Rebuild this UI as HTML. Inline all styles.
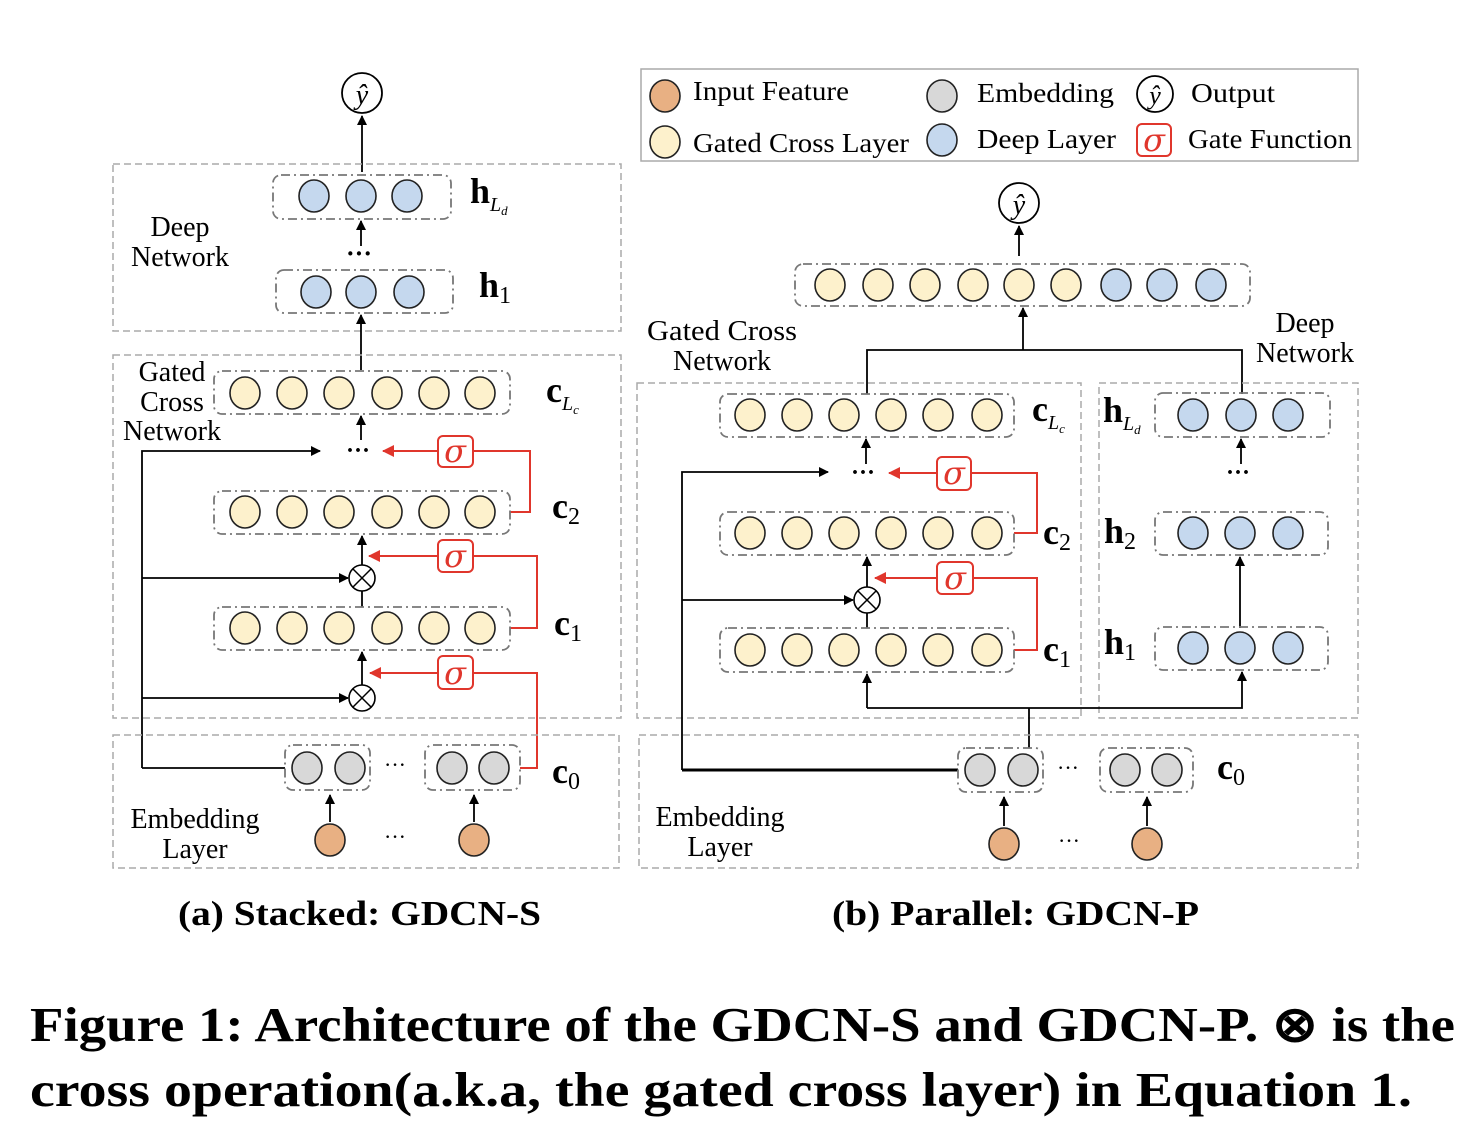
<!DOCTYPE html>
<html><head><meta charset="utf-8"><style>
html,body{margin:0;padding:0;background:#fff}
svg{display:block}
text{font-family:"Liberation Serif",serif;fill:#000}
.box{fill:none;stroke:#aaa;stroke-width:1.5;stroke-dasharray:7 4}
.grp{fill:none;stroke:#777;stroke-width:1.8;stroke-dasharray:9 4 2 4}
.y{fill:#fdf1cc;stroke:#222;stroke-width:1.6}
.b{fill:#c5d8ee;stroke:#222;stroke-width:1.6}
.g{fill:#d8d8d8;stroke:#222;stroke-width:1.6}
.o{fill:#e8b083;stroke:#222;stroke-width:1.6}
.k{stroke:#000;stroke-width:1.8;fill:none}
.r{stroke:#e0362c;stroke-width:2;fill:none}
.sg{fill:#fff;stroke:#e0362c;stroke-width:2}
.st{fill:#e0362c;font-style:italic;font-size:32px;font-family:"DejaVu Serif",serif}
.lab{font-size:28px}
.bl{font-size:36px;font-weight:bold}
.sub{font-size:24px}
.cap{font-size:35px;font-weight:bold}
.lg{font-size:27px}
</style></head><body>
<svg width="1480" height="1148" viewBox="0 0 1480 1148" xmlns="http://www.w3.org/2000/svg">
<defs>
<marker id="ak" markerWidth="10" markerHeight="10" refX="9" refY="5" orient="auto" markerUnits="userSpaceOnUse"><path d="M0,0 L10,5 L0,10z" fill="#000"/></marker>
<marker id="ar" markerWidth="12" markerHeight="12" refX="11" refY="6" orient="auto" markerUnits="userSpaceOnUse"><path d="M0,0 L12,6 L0,12z" fill="#e0362c"/></marker>
</defs>

<!-- ===== LEFT (a) ===== -->
<circle cx="362" cy="93" r="20" fill="#fff" stroke="#000" stroke-width="1.8"/>
<text x="362" y="104" text-anchor="middle" font-size="28" font-style="italic">ŷ</text>
<line class="k" x1="362" y1="172" x2="362" y2="116" marker-end="url(#ak)"/>

<rect class="box" x="113" y="164" width="508" height="167"/>
<rect class="grp" x="273" y="175" width="178" height="44" rx="8"/>
<ellipse class="b" cx="314" cy="196" rx="15" ry="16"/><ellipse class="b" cx="361" cy="196" rx="15" ry="16"/><ellipse class="b" cx="407" cy="196" rx="15" ry="16"/>
<text x="470" y="203" class="bl">h<tspan font-size="20" font-style="italic" font-weight="normal" dy="8">L</tspan><tspan font-size="13" font-style="italic" font-weight="normal" dy="4">d</tspan></text>
<line class="k" x1="361" y1="246" x2="361" y2="221" marker-end="url(#ak)"/>
<text x="359" y="262" text-anchor="middle" font-size="26" font-weight="bold">···</text>
<rect class="grp" x="276" y="270" width="177" height="43" rx="8"/>
<ellipse class="b" cx="316" cy="292" rx="15" ry="16"/><ellipse class="b" cx="361" cy="292" rx="15" ry="16"/><ellipse class="b" cx="409" cy="292" rx="15" ry="16"/>
<text x="479" y="297" class="bl">h<tspan class="sub" font-weight="normal" dy="6">1</tspan></text>
<text x="180" y="236" text-anchor="middle" class="lab">Deep</text>
<text x="180" y="266" text-anchor="middle" class="lab">Network</text>
<line class="k" x1="361" y1="370" x2="361" y2="315" marker-end="url(#ak)"/>

<rect class="box" x="113" y="355" width="508" height="363"/>
<rect class="grp" x="214" y="371" width="296" height="43" rx="8"/>
<g><ellipse class="y" cx="245" cy="393" rx="15" ry="16"/><ellipse class="y" cx="292" cy="393" rx="15" ry="16"/><ellipse class="y" cx="339" cy="393" rx="15" ry="16"/><ellipse class="y" cx="387" cy="393" rx="15" ry="16"/><ellipse class="y" cx="434" cy="393" rx="15" ry="16"/><ellipse class="y" cx="480" cy="393" rx="15" ry="16"/></g>
<text x="172" y="381" text-anchor="middle" class="lab">Gated</text>
<text x="172" y="411" text-anchor="middle" class="lab">Cross</text>
<text x="172" y="440" text-anchor="middle" class="lab">Network</text>
<text x="546" y="402" class="bl">c<tspan font-size="20" font-style="italic" font-weight="normal" dy="8">L</tspan><tspan font-size="13" font-style="italic" font-weight="normal" dy="4">c</tspan></text>
<line class="k" x1="361" y1="440" x2="361" y2="416" marker-end="url(#ak)"/>
<text x="358" y="458" text-anchor="middle" font-size="24" font-weight="bold">···</text>
<polyline class="k" points="142,768 142,451 320,451" marker-end="url(#ak)"/>
<rect class="sg" x="438" y="436" width="35" height="31" rx="5"/><text x="455" y="462" text-anchor="middle" class="st">σ</text>
<line class="r" x1="437" y1="451" x2="383" y2="451" marker-end="url(#ar)"/>
<polyline class="r" points="473,451 530,451 530,512 510,512"/>

<rect class="grp" x="214" y="491" width="296" height="43" rx="8"/>
<g><ellipse class="y" cx="245" cy="512" rx="15" ry="16"/><ellipse class="y" cx="292" cy="512" rx="15" ry="16"/><ellipse class="y" cx="339" cy="512" rx="15" ry="16"/><ellipse class="y" cx="387" cy="512" rx="15" ry="16"/><ellipse class="y" cx="434" cy="512" rx="15" ry="16"/><ellipse class="y" cx="480" cy="512" rx="15" ry="16"/></g>
<text x="552" y="518" class="bl">c<tspan class="sub" font-weight="normal" dy="6">2</tspan></text>
<line class="k" x1="362" y1="565" x2="362" y2="536" marker-end="url(#ak)"/>
<circle cx="362" cy="578" r="13" fill="#fff" stroke="#000" stroke-width="1.6"/><path d="M353,569 L371,587 M371,569 L353,587" stroke="#000" stroke-width="1.5"/>
<rect class="sg" x="438" y="540" width="35" height="32" rx="5"/><text x="455" y="567" text-anchor="middle" class="st">σ</text>
<line class="r" x1="437" y1="556" x2="369" y2="556" marker-end="url(#ar)"/>
<polyline class="r" points="473,556 537,556 537,628 510,628"/>
<line class="k" x1="142" y1="578" x2="348" y2="578" marker-end="url(#ak)"/>
<line class="k" x1="362" y1="591" x2="362" y2="607"/>

<rect class="grp" x="214" y="607" width="296" height="43" rx="8"/>
<g><ellipse class="y" cx="245" cy="628" rx="15" ry="16"/><ellipse class="y" cx="292" cy="628" rx="15" ry="16"/><ellipse class="y" cx="339" cy="628" rx="15" ry="16"/><ellipse class="y" cx="387" cy="628" rx="15" ry="16"/><ellipse class="y" cx="434" cy="628" rx="15" ry="16"/><ellipse class="y" cx="480" cy="628" rx="15" ry="16"/></g>
<text x="554" y="635" class="bl">c<tspan class="sub" font-weight="normal" dy="6">1</tspan></text>
<line class="k" x1="362" y1="685" x2="362" y2="652" marker-end="url(#ak)"/>
<circle cx="362" cy="698" r="13" fill="#fff" stroke="#000" stroke-width="1.6"/><path d="M353,689 L371,707 M371,689 L353,707" stroke="#000" stroke-width="1.5"/>
<rect class="sg" x="438" y="656" width="35" height="33" rx="5"/><text x="455" y="684" text-anchor="middle" class="st">σ</text>
<line class="r" x1="437" y1="673" x2="370" y2="673" marker-end="url(#ar)"/>
<polyline class="r" points="473,673 537,673 537,768 520,768"/>
<line class="k" x1="142" y1="698" x2="348" y2="698" marker-end="url(#ak)"/>

<rect class="box" x="113" y="735" width="506" height="133"/>
<line class="k" x1="142" y1="768" x2="285" y2="768"/>
<rect class="grp" x="285" y="745" width="85" height="45" rx="8"/>
<ellipse class="g" cx="307" cy="768" rx="15" ry="16"/><ellipse class="g" cx="350" cy="768" rx="15" ry="16"/>
<text x="395" y="772" text-anchor="middle" font-size="22">···</text>
<rect class="grp" x="425" y="745" width="95" height="45" rx="8"/>
<ellipse class="g" cx="452" cy="768" rx="15" ry="16"/><ellipse class="g" cx="494" cy="768" rx="15" ry="16"/>
<text x="552" y="783" class="bl">c<tspan class="sub" font-weight="normal" dy="6">0</tspan></text>
<ellipse class="o" cx="330" cy="840" rx="15" ry="16"/><ellipse class="o" cx="474" cy="840" rx="15" ry="16"/>
<line class="k" x1="330" y1="822" x2="330" y2="795" marker-end="url(#ak)"/>
<line class="k" x1="474" y1="822" x2="474" y2="795" marker-end="url(#ak)"/>
<text x="395" y="844" text-anchor="middle" font-size="22">···</text>
<text x="195" y="828" text-anchor="middle" class="lab">Embedding</text>
<text x="195" y="858" text-anchor="middle" class="lab">Layer</text>
<text x="178" y="925" class="cap" textLength="363" lengthAdjust="spacingAndGlyphs">(a) Stacked: GDCN-S</text>

<!-- ===== RIGHT (b) ===== -->
<rect x="641" y="69" width="717" height="92" fill="none" stroke="#aaa" stroke-width="1.5"/>
<ellipse class="o" cx="665" cy="96" rx="15" ry="16"/><text x="693" y="100" class="lg" textLength="156" lengthAdjust="spacingAndGlyphs">Input Feature</text>
<ellipse class="y" cx="665" cy="142" rx="15" ry="16"/><text x="693" y="152" class="lg" textLength="216" lengthAdjust="spacingAndGlyphs">Gated Cross Layer</text>
<ellipse class="g" cx="942" cy="96" rx="15" ry="16"/><text x="977" y="102" class="lg" textLength="137" lengthAdjust="spacingAndGlyphs">Embedding</text>
<ellipse class="b" cx="942" cy="140" rx="15" ry="16"/><text x="977" y="148" class="lg" textLength="139" lengthAdjust="spacingAndGlyphs">Deep Layer</text>
<circle cx="1155" cy="94" r="18" fill="#fff" stroke="#000" stroke-width="1.8"/><text x="1155" y="104" text-anchor="middle" font-size="26" font-style="italic">ŷ</text>
<text x="1191" y="102" class="lg" textLength="84" lengthAdjust="spacingAndGlyphs">Output</text>
<rect class="sg" x="1137" y="124" width="34" height="32" rx="5"/><text x="1154" y="151" text-anchor="middle" class="st">σ</text>
<text x="1188" y="148" class="lg" textLength="164" lengthAdjust="spacingAndGlyphs">Gate Function</text>

<circle cx="1019" cy="203" r="20" fill="#fff" stroke="#000" stroke-width="1.8"/>
<text x="1019" y="214" text-anchor="middle" font-size="28" font-style="italic">ŷ</text>
<line class="k" x1="1019" y1="256" x2="1019" y2="226" marker-end="url(#ak)"/>
<rect class="grp" x="795" y="264" width="455" height="42" rx="8"/>
<g><ellipse class="y" cx="830" cy="285" rx="15" ry="16"/><ellipse class="y" cx="878" cy="285" rx="15" ry="16"/><ellipse class="y" cx="925" cy="285" rx="15" ry="16"/><ellipse class="y" cx="973" cy="285" rx="15" ry="16"/><ellipse class="y" cx="1019" cy="285" rx="15" ry="16"/><ellipse class="y" cx="1066" cy="285" rx="15" ry="16"/><ellipse class="b" cx="1116" cy="285" rx="15" ry="16"/><ellipse class="b" cx="1162" cy="285" rx="15" ry="16"/><ellipse class="b" cx="1211" cy="285" rx="15" ry="16"/></g>
<line class="k" x1="1023" y1="350" x2="1023" y2="308" marker-end="url(#ak)"/>
<polyline class="k" points="867,394 867,350 1242,350 1242,394"/>
<text x="722" y="340" text-anchor="middle" class="lab" textLength="150" lengthAdjust="spacingAndGlyphs">Gated Cross</text>
<text x="722" y="370" text-anchor="middle" class="lab">Network</text>
<text x="1305" y="332" text-anchor="middle" class="lab">Deep</text>
<text x="1305" y="362" text-anchor="middle" class="lab">Network</text>

<rect class="box" x="637" y="383" width="444" height="335"/>
<rect class="box" x="1099" y="383" width="259" height="335"/>

<rect class="grp" x="720" y="394" width="294" height="43" rx="8"/>
<g><ellipse class="y" cx="750" cy="415" rx="15" ry="16"/><ellipse class="y" cx="797" cy="415" rx="15" ry="16"/><ellipse class="y" cx="844" cy="415" rx="15" ry="16"/><ellipse class="y" cx="891" cy="415" rx="15" ry="16"/><ellipse class="y" cx="938" cy="415" rx="15" ry="16"/><ellipse class="y" cx="987" cy="415" rx="15" ry="16"/></g>
<text x="1032" y="421" class="bl">c<tspan font-size="20" font-style="italic" font-weight="normal" dy="8">L</tspan><tspan font-size="13" font-style="italic" font-weight="normal" dy="4">c</tspan></text>
<line class="k" x1="866" y1="464" x2="866" y2="439" marker-end="url(#ak)"/>
<text x="863" y="480" text-anchor="middle" font-size="24" font-weight="bold">···</text>
<polyline class="k" points="682,770 682,472 828,472" marker-end="url(#ak)"/>
<rect class="sg" x="937" y="457" width="34" height="33" rx="5"/><text x="954" y="484" text-anchor="middle" class="st">σ</text>
<line class="r" x1="936" y1="473" x2="889" y2="473" marker-end="url(#ar)"/>
<polyline class="r" points="971,473 1037,473 1037,533 1014,533"/>

<rect class="grp" x="720" y="512" width="294" height="43" rx="8"/>
<g><ellipse class="y" cx="750" cy="533" rx="15" ry="16"/><ellipse class="y" cx="797" cy="533" rx="15" ry="16"/><ellipse class="y" cx="844" cy="533" rx="15" ry="16"/><ellipse class="y" cx="891" cy="533" rx="15" ry="16"/><ellipse class="y" cx="938" cy="533" rx="15" ry="16"/><ellipse class="y" cx="987" cy="533" rx="15" ry="16"/></g>
<text x="1043" y="544" class="bl">c<tspan class="sub" font-weight="normal" dy="6">2</tspan></text>
<line class="k" x1="867" y1="587" x2="867" y2="557" marker-end="url(#ak)"/>
<circle cx="867" cy="600" r="13" fill="#fff" stroke="#000" stroke-width="1.6"/><path d="M858,591 L876,609 M876,591 L858,609" stroke="#000" stroke-width="1.5"/>
<rect class="sg" x="937" y="562" width="36" height="32" rx="5"/><text x="955" y="589" text-anchor="middle" class="st">σ</text>
<line class="r" x1="936" y1="578" x2="875" y2="578" marker-end="url(#ar)"/>
<polyline class="r" points="973,578 1037,578 1037,650 1014,650"/>
<line class="k" x1="682" y1="600" x2="853" y2="600" marker-end="url(#ak)"/>
<line class="k" x1="867" y1="613" x2="867" y2="628"/>

<rect class="grp" x="720" y="628" width="294" height="44" rx="8"/>
<g><ellipse class="y" cx="750" cy="650" rx="15" ry="16"/><ellipse class="y" cx="797" cy="650" rx="15" ry="16"/><ellipse class="y" cx="844" cy="650" rx="15" ry="16"/><ellipse class="y" cx="891" cy="650" rx="15" ry="16"/><ellipse class="y" cx="938" cy="650" rx="15" ry="16"/><ellipse class="y" cx="987" cy="650" rx="15" ry="16"/></g>
<text x="1043" y="661" class="bl">c<tspan class="sub" font-weight="normal" dy="6">1</tspan></text>
<line class="k" x1="867" y1="708" x2="867" y2="674" marker-end="url(#ak)"/>
<polyline class="k" points="867,708 1242,708 1242,672" marker-end="url(#ak)"/>
<line class="k" x1="1029" y1="748" x2="1029" y2="708"/>

<rect class="grp" x="1155" y="393" width="175" height="44" rx="8"/>
<ellipse class="b" cx="1193" cy="415" rx="15" ry="16"/><ellipse class="b" cx="1241" cy="415" rx="15" ry="16"/><ellipse class="b" cx="1288" cy="415" rx="15" ry="16"/>
<text x="1103" y="422" class="bl">h<tspan font-size="20" font-style="italic" font-weight="normal" dy="8">L</tspan><tspan font-size="13" font-style="italic" font-weight="normal" dy="4">d</tspan></text>
<line class="k" x1="1241" y1="464" x2="1241" y2="439" marker-end="url(#ak)"/>
<text x="1238" y="480" text-anchor="middle" font-size="24" font-weight="bold">···</text>
<rect class="grp" x="1155" y="512" width="173" height="43" rx="8"/>
<ellipse class="b" cx="1193" cy="533" rx="15" ry="16"/><ellipse class="b" cx="1240" cy="533" rx="15" ry="16"/><ellipse class="b" cx="1288" cy="533" rx="15" ry="16"/>
<text x="1104" y="543" class="bl">h<tspan class="sub" font-weight="normal" dy="6">2</tspan></text>
<line class="k" x1="1240" y1="628" x2="1240" y2="557" marker-end="url(#ak)"/>
<rect class="grp" x="1155" y="627" width="173" height="43" rx="8"/>
<ellipse class="b" cx="1193" cy="648" rx="15" ry="16"/><ellipse class="b" cx="1240" cy="648" rx="15" ry="16"/><ellipse class="b" cx="1288" cy="648" rx="15" ry="16"/>
<text x="1104" y="654" class="bl">h<tspan class="sub" font-weight="normal" dy="6">1</tspan></text>

<rect class="box" x="639" y="735" width="719" height="133"/>
<line x1="682" y1="770" x2="958" y2="770" stroke="#000" stroke-width="3"/>
<rect class="grp" x="958" y="748" width="85" height="44" rx="8"/>
<ellipse class="g" cx="980" cy="770" rx="15" ry="16"/><ellipse class="g" cx="1023" cy="770" rx="15" ry="16"/>
<text x="1068" y="775" text-anchor="middle" font-size="22">···</text>
<rect class="grp" x="1100" y="748" width="93" height="44" rx="8"/>
<ellipse class="g" cx="1125" cy="770" rx="15" ry="16"/><ellipse class="g" cx="1167" cy="770" rx="15" ry="16"/>
<text x="1217" y="779" class="bl">c<tspan class="sub" font-weight="normal" dy="6">0</tspan></text>
<ellipse class="o" cx="1004" cy="844" rx="15" ry="16"/><ellipse class="o" cx="1147" cy="844" rx="15" ry="16"/>
<line class="k" x1="1004" y1="826" x2="1004" y2="797" marker-end="url(#ak)"/>
<line class="k" x1="1147" y1="826" x2="1147" y2="797" marker-end="url(#ak)"/>
<text x="1069" y="848" text-anchor="middle" font-size="22">···</text>
<text x="720" y="826" text-anchor="middle" class="lab">Embedding</text>
<text x="720" y="856" text-anchor="middle" class="lab">Layer</text>
<text x="832" y="925" class="cap" textLength="367" lengthAdjust="spacingAndGlyphs">(b) Parallel: GDCN-P</text>

<!-- caption -->
<text x="30" y="1041" font-size="49" font-weight="bold" textLength="1425" lengthAdjust="spacingAndGlyphs">Figure 1: Architecture of the GDCN-S and GDCN-P. ⊗ is the</text>
<text x="30" y="1106" font-size="49" font-weight="bold" textLength="1382" lengthAdjust="spacingAndGlyphs">cross operation(a.k.a, the gated cross layer) in Equation 1.</text>
</svg>
</body></html>
